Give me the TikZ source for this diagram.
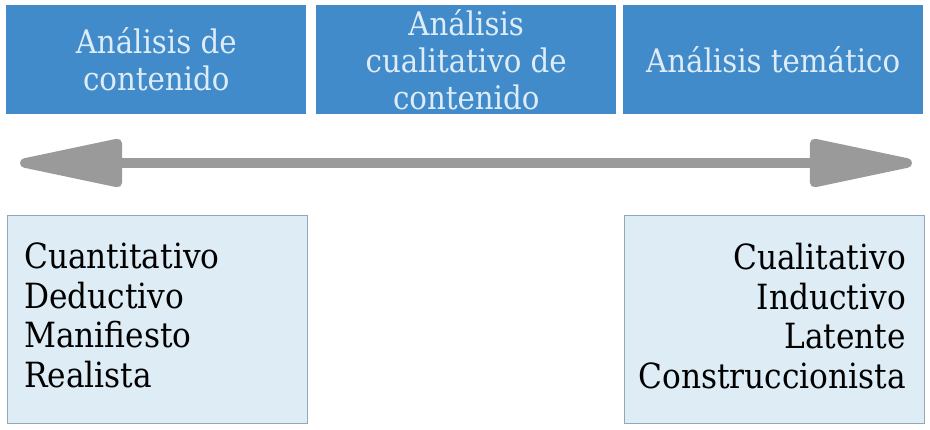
\documentclass[tikz,border=0pt]{standalone}
\usepackage{fontspec}
\setmainfont{DejaVu Serif Condensed}
\usetikzlibrary{arrows.meta}
\definecolor{tituloazul}{HTML}{428BCA}
\definecolor{textoclaro}{HTML}{DDECF6}
\definecolor{cajaclara}{HTML}{DEEDF5}
\definecolor{bordecaja}{HTML}{8FA9B9}
\definecolor{flechagris}{HTML}{9A9A9A}
\begin{document}
\begin{tikzpicture}[x=1pt,y=-1pt,
  titulo/.style={fill=tituloazul, text=textoclaro, inner sep=0pt, align=center,
    minimum width=300pt, minimum height=109pt, anchor=north west,
    font=\fontsize{32.5}{37}\selectfont},
  caja/.style={fill=cajaclara, draw=bordecaja, line width=1pt, inner sep=0pt,
    minimum width=300pt, minimum height=208pt, anchor=north west},
  lista/.style={inner sep=0pt, font=\fontsize{34.7}{39.5}\selectfont}]
\useasboundingbox (0,0) rectangle (930,430);
% cabeceras
\node [titulo] (contenido) at (6,5) {Análisis de\\contenido};
\node [titulo] (cualitativo) at (316,5) {Análisis\\cualitativo de\\contenido};
\node [titulo] (tematico) at (623,5) {Análisis temático};
% flecha
\coordinate (izq) at (20,163);
\coordinate (der) at (912,163);
\draw [flechagris, line width=9.5pt,
  {Triangle[length=122pt, width=48pt, round]}-{Triangle[length=122pt, width=48pt, round]}]
  (izq) -- (der);
% cajas inferiores
\node [caja] (cuanti) at (6.5,215.5) {};
\node [caja] (cuali) at (623.5,215.5) {};
\node [lista, align=left, anchor=north west] (listaizq) at (24,243)
  {Cuantitativo\\Deductivo\\Manifiesto\\Realista};
\node [lista, align=right, anchor=north east] (listader) at (906,243)
  {Cualitativo\\Inductivo\\Latente\\Construccionista};
\end{tikzpicture}
\end{document}
